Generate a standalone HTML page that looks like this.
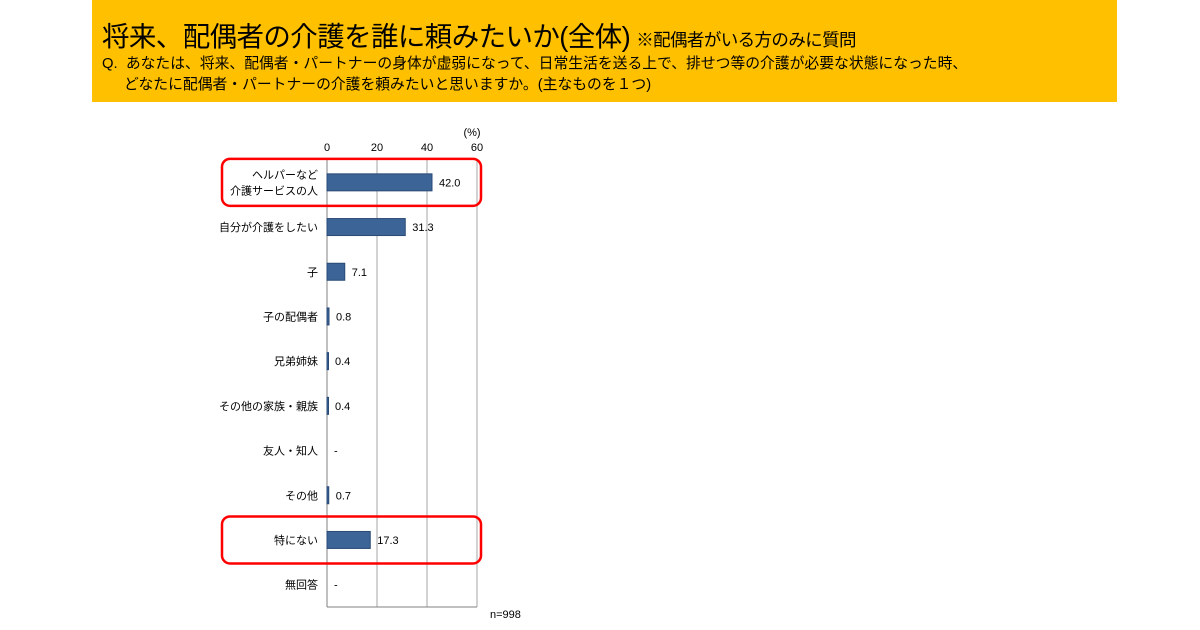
<!DOCTYPE html>
<html><head><meta charset="utf-8"><style>
body{margin:0;width:1200px;height:630px;background:#fff;overflow:hidden;font-family:"Liberation Sans","Noto Sans CJK JP",sans-serif;position:relative}
#banner{position:absolute;left:92px;top:0;width:1025px;height:102px;background:#FFC000}
#title{position:absolute;left:10px;top:14px;font-size:27.5px;color:#000;white-space:nowrap;letter-spacing:-0.6px}
#title span{font-size:17.5px;margin-left:6px}
#q1{position:absolute;left:10px;top:52px;font-size:14.8px;white-space:nowrap}
#q2{position:absolute;left:32px;top:73px;font-size:14.8px;white-space:nowrap}
</style></head><body>
<div id="banner">
<div id="title">将来、配偶者の介護を誰に頼みたいか(全体)<span>※配偶者がいる方のみに質問</span></div>
<div id="q1">Q.&nbsp;&nbsp;あなたは、将来、配偶者・パートナーの身体が虚弱になって、日常生活を送る上で、排せつ等の介護が必要な状態になった時、</div>
<div id="q2">どなたに配偶者・パートナーの介護を頼みたいと思いますか。(主なものを１つ)</div>
</div>
<svg id="chart" width="1200" height="630" style="position:absolute;left:0;top:0"></svg>
<script>
const categories=[["ヘルパーなど","介護サービスの人"],["自分が介護をしたい"],["子"],["子の配偶者"],["兄弟姉妹"],["その他の家族・親族"],["友人・知人"],["その他"],["特にない"],["無回答"]];
const values=[42.0,31.3,7.1,0.8,0.4,0.4,null,0.7,17.3,null];
const valueLabels=["42.0","31.3","7.1","0.8","0.4","0.4","-","0.7","17.3","-"];
const ticks=[0,20,40,60];
const highlighted=[0,8];
const NS="http://www.w3.org/2000/svg";
const svg=document.getElementById("chart");
const X0=327,X1=477,Y0=160,Y1=607,MAX=60;
const x=v=>X0+(X1-X0)*v/MAX;
const bandH=(Y1-Y0)/categories.length;
const yc=i=>Y0+bandH*(i+0.5);
function mk(tag,attrs,txt){const e=document.createElementNS(NS,tag);for(const k in attrs)e.setAttribute(k,attrs[k]);if(txt!=null)e.textContent=txt;svg.appendChild(e);return e;}
ticks.forEach(t=>{
  const g=mk("line",{x1:x(t),x2:x(t),y1:Y0,y2:Y1,stroke:"#a6a6a6","stroke-width":1});
  
  
  const l=mk("text",{x:x(t),y:151,"font-size":11,"text-anchor":"middle",fill:"#000"},String(t));
  
  
});
const ax=mk("line",{x1:X0,x2:X0,y1:Y0,y2:Y1,stroke:"#808080","stroke-width":1});


const bx=mk("line",{x1:X0,x2:X1,y1:Y1,y2:Y1,stroke:"#808080","stroke-width":1});


const u=mk("text",{x:472,y:136,"font-size":11,"text-anchor":"middle"},"(%)");


categories.forEach((c,i)=>{
  const cy=yc(i);
  c.forEach((line,j)=>{
    const t=mk("text",{x:318,y:cy+4+(j-(c.length-1)/2)*16,"font-size":11,"text-anchor":"end"},line);
    
    
  });
  const v=values[i];
  if(v!=null){
    const r=mk("rect",{x:X0,y:cy-8.5,width:Math.max(x(v)-X0,1.5),height:17,fill:"#3c6496",stroke:"#2a4a75","stroke-width":1});
    
    
  }
  const vl=mk("text",{x:(v!=null?x(v):X0)+7,y:cy+4,"font-size":11},valueLabels[i]);
  
  
});
highlighted.forEach(i=>{
  const cy=yc(i);
  const h=mk("rect",{x:222,y:cy-23.5,width:259,height:47,rx:8,fill:"none",stroke:"#ff0000","stroke-width":2.5});
  
  
});
const n=mk("text",{x:490,y:618,"font-size":11},"n=998");


</script>
</body></html>
